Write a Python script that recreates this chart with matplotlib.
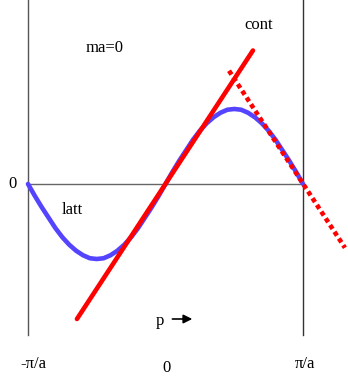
import numpy as np
import matplotlib
matplotlib.use("Agg")
import matplotlib.pyplot as plt

# momentum in units of pi/a, energy in units of band half-width
p_latt = [-1.0, -0.95, -0.9, -0.85, -0.8, -0.75, -0.7, -0.65, -0.6, -0.55, -0.5,
          -0.45, -0.4, -0.35, -0.3, -0.25, -0.2, -0.15, -0.1, -0.05, 0.0,
          0.05, 0.1, 0.15, 0.2, 0.25, 0.3, 0.35, 0.4, 0.45, 0.5,
          0.55, 0.6, 0.65, 0.7, 0.75, 0.8, 0.85, 0.9, 0.95, 1.0]
e_latt = [0.0, -0.16, -0.31, -0.45, -0.59, -0.71, -0.81, -0.89, -0.95, -0.99, -1.0,
          -0.99, -0.95, -0.89, -0.81, -0.71, -0.59, -0.45, -0.31, -0.16, 0.0,
          0.16, 0.31, 0.45, 0.59, 0.71, 0.81, 0.89, 0.95, 0.99, 1.0,
          0.99, 0.95, 0.89, 0.81, 0.71, 0.59, 0.45, 0.31, 0.16, 0.0]
p_cont = [-0.644, 0.636]
e_cont = [-1.80, 1.78]
p_fold = [0.462, 1.305]
e_fold = [1.51, -0.85]

plt.rcParams['font.family'] = ['Liberation Serif', 'DejaVu Serif']

fig = plt.figure(figsize=(3.48, 3.82), dpi=100)
ax = fig.add_axes([0, 0, 1, 1])
ax.set_xlim(-1.2036, 1.3273)
ax.set_ylim(-2.64, 2.453)
ax.axis('off')

# zone boundaries and zero line
ax.plot([-1, -1], [-2.013, 2.453], color='#555555', lw=1)
ax.plot([1, 1], [-2.013, 2.453], color='#333333', lw=1)
ax.plot([-1, 1], [0, 0], color='#666666', lw=1)

ax.plot(p_latt, e_latt, color='#5544ff', lw=3.3, solid_capstyle='round')
ax.plot(p_cont, e_cont, color='#ff0000', lw=3.3, solid_capstyle='round')
ax.plot(p_fold, e_fold, color='#ff0000', lw=3.3, linestyle=(0, (1, 0.75)))

fs = 12
ax.text(-1.115, 0, '0', fontsize=fs, ha='center', va='center')
ax.text(-0.68, -0.35, 'latt', fontsize=fs, ha='center', va='center')
ax.text(-0.445, 1.81, 'ma=0', fontsize=fs, ha='center', va='center')
ax.text(0.68, 2.12, 'cont', fontsize=fs, ha='center', va='center')
ax.text(-0.04, -1.83, 'p', fontsize=fs, ha='center', va='center')
ax.annotate('', xy=(0.215, -1.8), xytext=(0.03, -1.8),
            arrowprops=dict(arrowstyle='-|>', color='black', lw=1.2,
                            mutation_scale=13))
ax.text(-0.964, -2.4, '-π/a', fontsize=fs, ha='center', va='center')
ax.text(0.004, -2.45, '0', fontsize=fs, ha='center', va='center')
ax.text(1.015, -2.4, 'π/a', fontsize=fs, ha='center', va='center')

fig.savefig('out.png', dpi=100)
